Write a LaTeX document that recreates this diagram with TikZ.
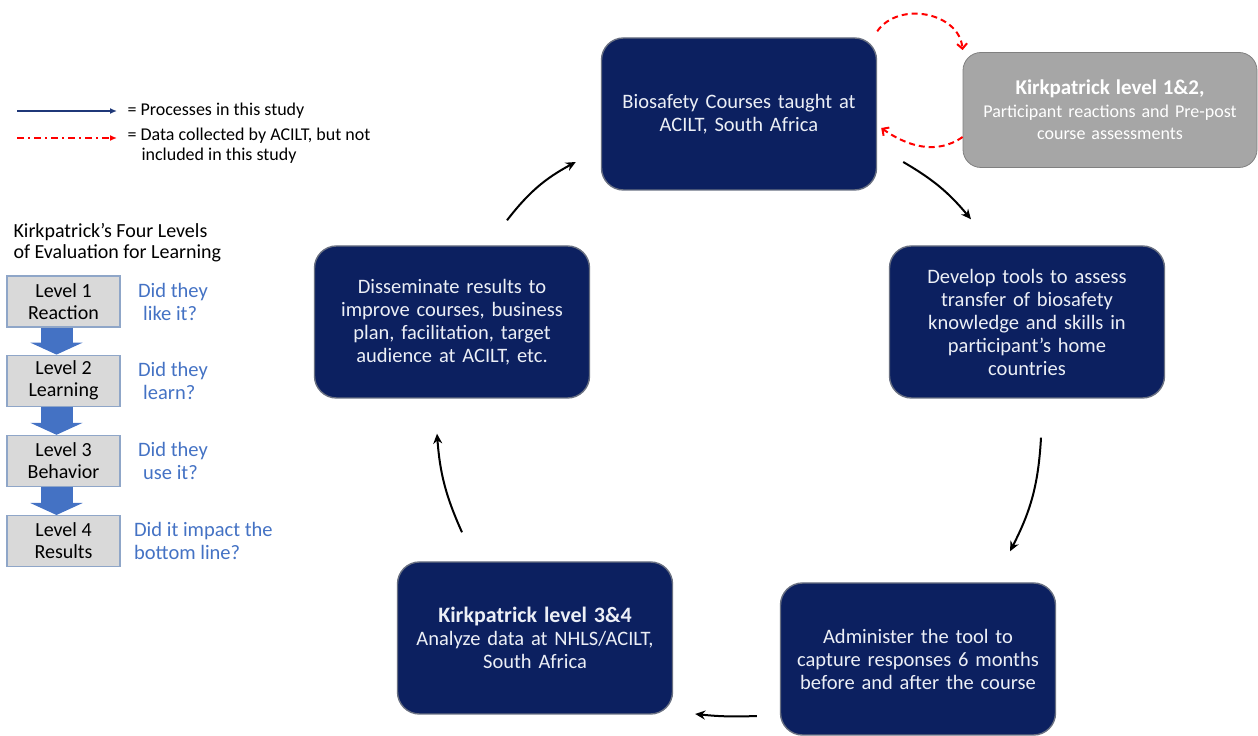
\documentclass[tikz,border=0pt]{standalone}
\usepackage{fontspec}
\setmainfont{Carlito}
\usetikzlibrary{arrows.meta, positioning, calc}
\definecolor{navy}{RGB}{12, 32, 96}
\definecolor{navyedge}{RGB}{105, 112, 130}
\definecolor{boxtext}{RGB}{236, 239, 246}
\definecolor{stone}{RGB}{166, 166, 166}
\definecolor{stoneedge}{RGB}{128, 128, 128}
\definecolor{levelfill}{RGB}{217, 217, 217}
\definecolor{leveledge}{RGB}{143, 166, 200}
\definecolor{askblue}{RGB}{68, 114, 196}
\definecolor{legendblue}{RGB}{31, 56, 120}

\begin{document}
\begin{tikzpicture}[x=1pt, y=1pt,
            cyclebox/.style={draw=navyedge, line width=1.4pt, fill=navy, rounded corners=22pt, minimum width=275pt, minimum height=152pt, text width=264pt, align=center, text=boxtext, font=\fontsize{20.5}{23}\selectfont},
            databox/.style={draw=stoneedge, thick, fill=stone, rounded corners=18pt, minimum width=294pt, minimum height=115pt, text width=284pt, align=center, text=white, font=\fontsize{18}{22.5}\selectfont},
            levelbox/.style={draw=leveledge, line width=1.2pt, fill=levelfill, minimum width=113pt, minimum height=51pt, align=center, font=\fontsize{20}{22}\selectfont},
            ask/.style={text=askblue, align=left, font=\fontsize{20.5}{23}\selectfont},
            legend/.style={align=left, font=\fontsize{18}{20}\selectfont},
            flow/.style={-{Stealth[length=10pt, width=9pt]}, line width=2pt, black},
            datalink/.style={-{Straight Barb[length=5pt, width=10pt]}, red, line width=2pt, dash pattern=on 6pt off 4pt},
            levelarrow/.style={-{Triangle[length=12pt, width=52pt]}, line width=32pt, askblue}
        ]
            \useasboundingbox (0,0) rectangle (1258,736);

            \node[cyclebox] (courses) at (739,622) {Biosafety Courses taught at\\ACILT, South Africa};
            \node[databox] (level12) at (1110,626) {{\bfseries\fontsize{21}{24}\selectfont Kirkpatrick level 1\&2,}\\Participant reactions and Pre-post\\course assessments};
            \node[cyclebox] (develop) at (1027,414) {Develop tools to assess\\transfer of biosafety\\knowledge and skills in\\participant’s home\\countries};
            \node[cyclebox] (administer) at (918,77) {Administer the tool to\\capture responses 6 months\\before and after the course};
            \node[cyclebox] (analyze) at (535,98) {{\bfseries\fontsize{22}{26}\selectfont Kirkpatrick level 3\&4}\\Analyze data at NHLS/ACILT,\\South Africa};
            \node[cyclebox] (disseminate) at (452,414) {Disseminate results to\\improve courses, business\\plan, facilitation, target\\audience at ACILT, etc.};

            \draw[flow] ([shift={(55,25)}]disseminate.north) to[bend left=12] ([shift={(-25,-48)}]courses.west);
            \draw[flow] ([shift={(26,-48)}]courses.east) to[bend left=10] ([shift={(-56,26)}]develop.north);
            \draw[flow] ([shift={(14,-39)}]develop.south) to[bend left=12] ([shift={(92,31)}]administer.north);
            \draw[flow] ([shift={(-23,-57)}]administer.west) to[bend left=4] ([shift={(22,-76)}]analyze.east);
            \draw[flow] ([shift={(-73,29)}]analyze.north) to[bend left=10] ([shift={(-15,-35)}]disseminate.south);

            \draw[datalink] ([yshift=6]courses.north east) to[out=55, in=95, looseness=1.1] ([yshift=2]level12.north west);
            \draw[datalink] ([yshift=-27]level12.west) to[out=215, in=-35] ([shift={(4,-14)}]courses.east);

            % legend
            \coordinate (procstart) at (17,625);
            \node[legend, anchor=west] (proctext) at (124,625) {= Processes in this study};
            \draw[-{Latex[length=7pt, width=6pt]}, legendblue, line width=1.6pt, shorten >=7pt] (procstart) -- (proctext.west);
            \coordinate (datastart) at (17,598);
            \node[legend, anchor=north west] (datatext) at (124,612) {= Data collected by ACILT, but not\\\hspace*{14pt}included in this study};
            \draw[-{Latex[length=7pt, width=6pt]}, red, line width=1.6pt, dash pattern=on 7pt off 4pt on 2pt off 4pt, shorten >=7pt] (datastart) -- (datastart -| datatext.west);

            \node[anchor=west, align=left, font=\fontsize{20}{21}\selectfont] (fourlevels) at (10,493) {Kirkpatrick’s Four Levels\\of Evaluation for Learning};

            \node[levelbox] (lv1) at (63.5,434.5) {Level 1\\Reaction};
            \node[levelbox, below=27pt of lv1] (lv2) {Level 2\\Learning};
            \node[levelbox, below=28pt of lv2] (lv3) {Level 3\\Behavior};
            \node[levelbox, below=28pt of lv3] (lv4) {Level 4\\Results};
            \node[ask, right=14pt of lv1] (ask1) {Did they\\\hspace*{5pt}like it?};
            \node[ask, right=14pt of lv2] (ask2) {Did they\\\hspace*{5pt}learn?};
            \node[ask, right=14pt of lv3] (ask3) {Did they\\\hspace*{5pt}use it?};
            \node[ask, right=10pt of lv4] (ask4) {Did it impact the\\bottom line?};
            \foreach \a/\b in {lv1/lv2, lv2/lv3, lv3/lv4}
                \draw[levelarrow] ([xshift=-7pt]\a.south) -- ([xshift=-7pt]\b.north);
        \end{tikzpicture}
\end{document}
